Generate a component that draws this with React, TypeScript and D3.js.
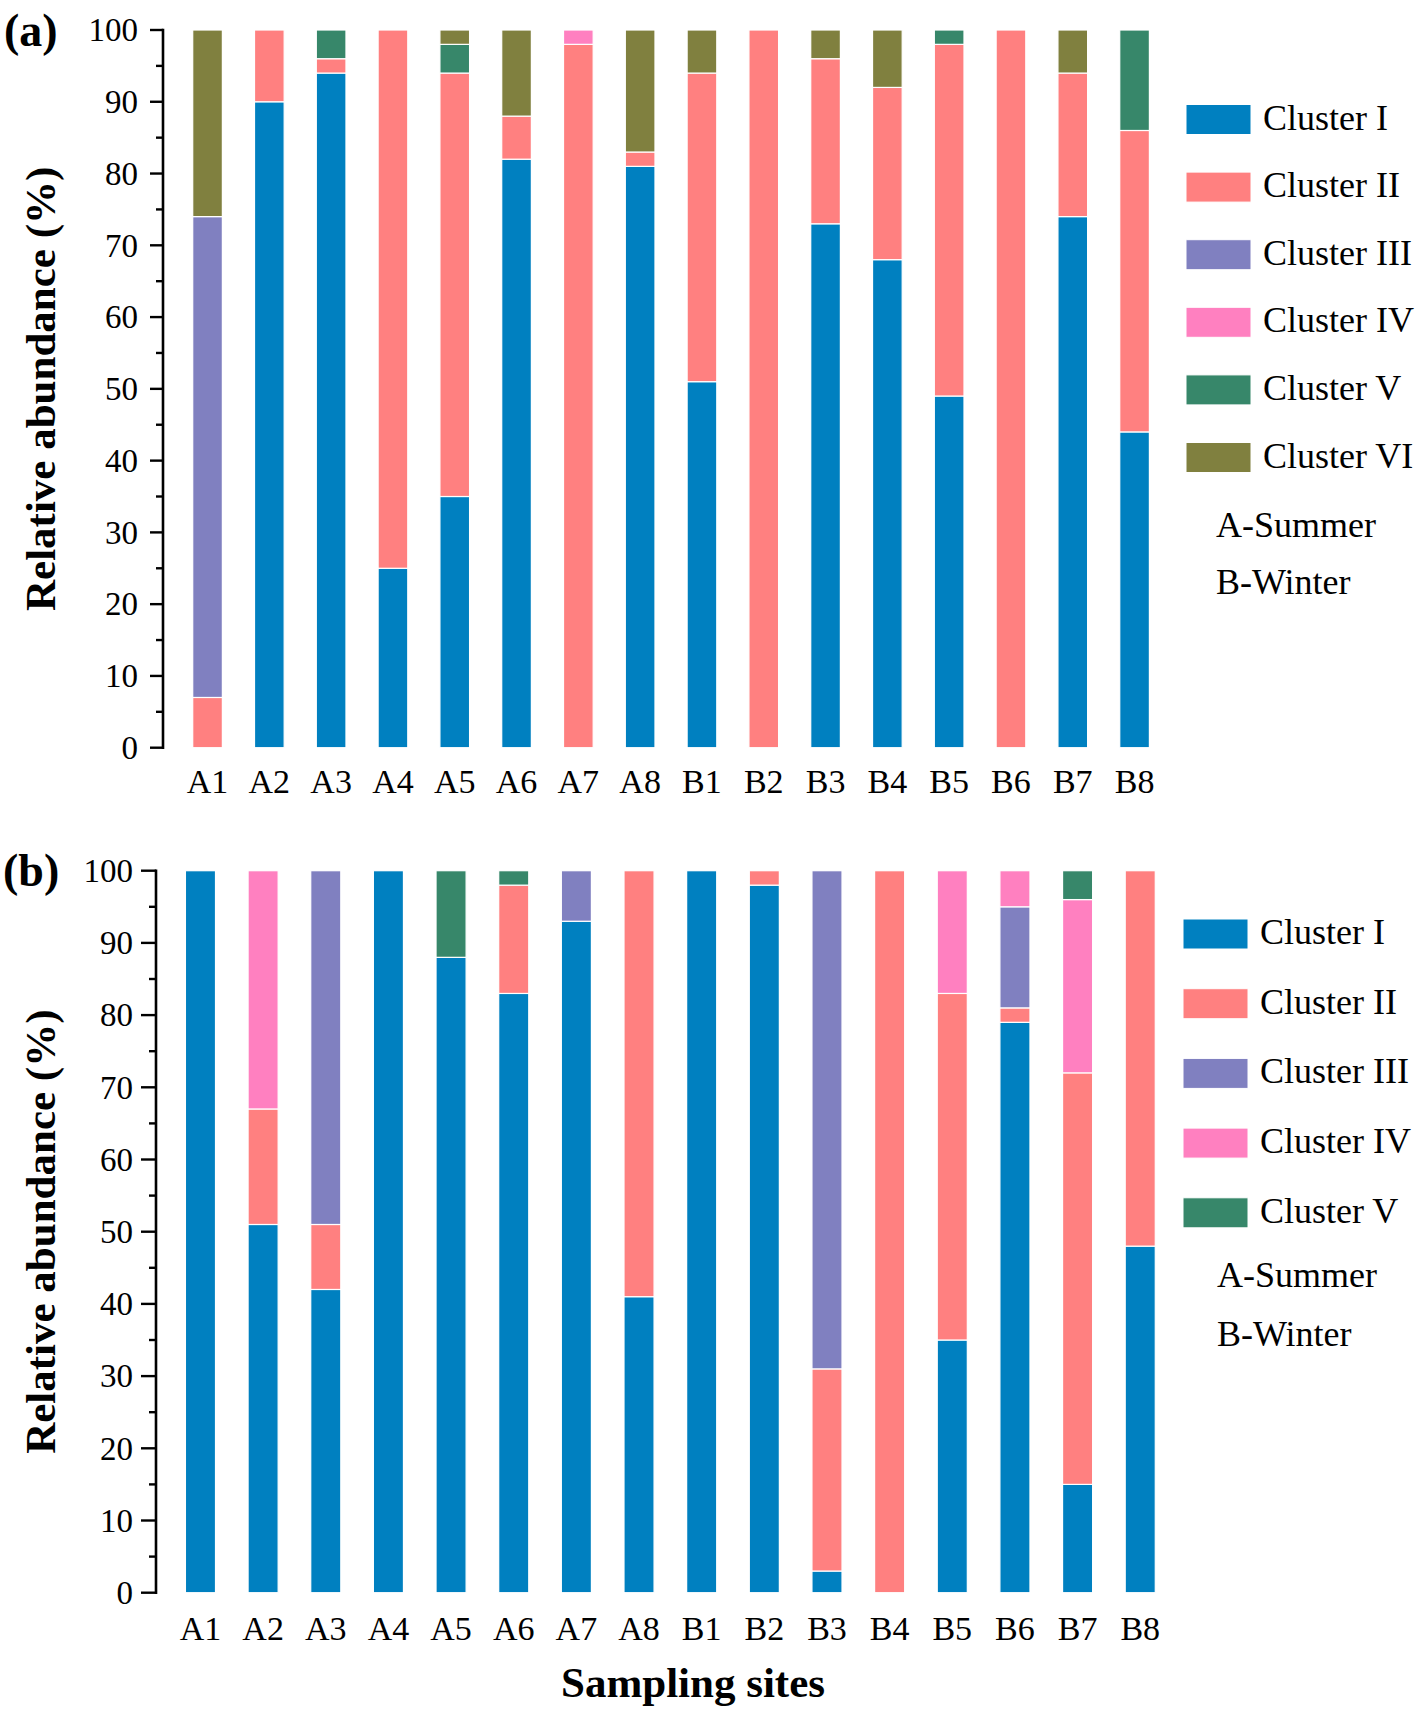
import * as d3 from "d3";

const sites = ["A1", "A2", "A3", "A4", "A5", "A6", "A7", "A8", "B1", "B2", "B3", "B4", "B5", "B6", "B7", "B8"];
const clusterNames = ["Cluster I", "Cluster II", "Cluster III", "Cluster IV", "Cluster V", "Cluster VI"];
const clusterColors = ["#0080C0", "#FF8080", "#8080C0", "#FF80C0", "#37876A", "#80803F"];
const yTicks = [0, 10, 20, 30, 40, 50, 60, 70, 80, 90, 100];
const yMinorTicks = [5, 15, 25, 35, 45, 55, 65, 75, 85, 95];
const seasonNotes = ["A-Summer", "B-Winter"];

// panel (a): relative abundance per site
const aCluster1 = [0, 90, 94, 25, 35, 82, 0, 81, 51, 0, 73, 68, 49, 0, 74, 44];
const aCluster2 = [7, 10, 2, 75, 59, 6, 98, 2, 43, 100, 23, 24, 49, 100, 20, 42];
const aCluster3 = [67, 0, 0, 0, 0, 0, 0, 0, 0, 0, 0, 0, 0, 0, 0, 0];
const aCluster4 = [0, 0, 0, 0, 0, 0, 2, 0, 0, 0, 0, 0, 0, 0, 0, 0];
const aCluster5 = [0, 0, 4, 0, 4, 0, 0, 0, 0, 0, 0, 0, 2, 0, 0, 14];
const aCluster6 = [26, 0, 0, 0, 2, 12, 0, 17, 6, 0, 4, 8, 0, 0, 6, 0];

// panel (b)
const bCluster1 = [100, 51, 42, 100, 88, 83, 93, 41, 100, 98, 3, 0, 35, 79, 15, 48];
const bCluster2 = [0, 16, 9, 0, 0, 15, 0, 59, 0, 2, 28, 100, 48, 2, 57, 52];
const bCluster3 = [0, 0, 49, 0, 0, 0, 7, 0, 0, 0, 69, 0, 0, 14, 0, 0];
const bCluster4 = [0, 33, 0, 0, 0, 0, 0, 0, 0, 0, 0, 0, 17, 5, 24, 0];
const bCluster5 = [0, 0, 0, 0, 12, 2, 0, 0, 0, 0, 0, 0, 0, 0, 4, 0];

const FONT = "'Liberation Serif', 'Times New Roman', serif";

function Panel({ tag, series, layout }) {
  const keys = clusterNames.slice(0, series.length);
  const rows = sites.map((s, i) => {
    const r = { site: s };
    keys.forEach((k, j) => (r[k] = series[j][i]));
    return r;
  });
  const stacked = d3.stack().keys(keys)(rows);

  const x = d3
    .scaleBand()
    .domain(sites)
    .range(layout.xRange)
    .paddingInner(0.52)
    .paddingOuter(0.5);
  const y = d3.scaleLinear().domain([0, 100]).range([layout.yBottom, layout.yTop]);
  const ax = layout.axisX;
  const midY = (layout.yTop + layout.yBottom) / 2;

  return (
    <g>
      <text x={layout.tagX} y={layout.tagY} fontSize={46} fontWeight="bold" fontFamily={FONT}>
        {tag}
      </text>
      {stacked.map((layer, j) =>
        layer.map((d, i) =>
          d[1] - d[0] > 0 ? (
            <rect
              key={keys[j] + i}
              x={x(sites[i])}
              y={y(d[1])}
              width={x.bandwidth()}
              height={y(d[0]) - y(d[1])}
              fill={clusterColors[j]}
              stroke="#fff"
              strokeWidth={1.2}
            />
          ) : null
        )
      )}
      <line x1={ax} x2={ax} y1={y(0) + 1.2} y2={y(100) - 1.2} stroke="#000" strokeWidth={2.6} />
      {yTicks.map((t) => (
        <g key={t}>
          <line x1={ax - layout.tickLen} x2={ax} y1={y(t)} y2={y(t)} stroke="#000" strokeWidth={2.4} />
          <text
            x={ax - layout.tickLen - layout.tickPad}
            y={y(t)}
            dy="0.34em"
            textAnchor="end"
            fontSize={33}
            fontFamily={FONT}
          >
            {t}
          </text>
        </g>
      ))}
      {yMinorTicks.map((t) => (
        <line key={t} x1={ax - 7} x2={ax} y1={y(t)} y2={y(t)} stroke="#000" strokeWidth={2.4} />
      ))}
      {sites.map((s) => (
        <text
          key={s}
          x={x(s) + x.bandwidth() / 2}
          y={layout.xLabelY}
          textAnchor="middle"
          fontSize={34}
          fontFamily={FONT}
        >
          {s}
        </text>
      ))}
      <text
        transform={`translate(${layout.titleX},${midY}) rotate(-90)`}
        textAnchor="middle"
        fontSize={43}
        fontWeight="bold"
        fontFamily={FONT}
      >
        Relative abundance (%)
      </text>
      {keys.map((k, j) => {
        const cy = layout.legendY + j * layout.legendGap;
        return (
          <g key={k}>
            <rect
              x={layout.swatchX}
              y={cy - 15}
              width={65}
              height={30}
              fill={clusterColors[j]}
              stroke="#fff"
              strokeWidth={1}
            />
            <text x={layout.swatchX + 77} y={cy + 10} fontSize={36} fontFamily={FONT}>
              {k}
            </text>
          </g>
        );
      })}
      {seasonNotes.map((n, i) => (
        <text key={n} x={layout.noteX} y={layout.noteY[i]} fontSize={36} fontFamily={FONT}>
          {n}
        </text>
      ))}
    </g>
  );
}

export default function App() {
  const layoutA = {
    xRange: [161.8, 1180.3],
    yTop: 30,
    yBottom: 747.7,
    axisX: 163,
    tickLen: 13,
    tickPad: 12,
    xLabelY: 793,
    tagX: 4,
    tagY: 46,
    titleX: 55,
    swatchX: 1186,
    legendY: 119.5,
    legendGap: 67.6,
    noteX: 1216,
    noteY: [537, 594],
  };
  const layoutB = {
    xRange: [154.1, 1186.6],
    yTop: 870.7,
    yBottom: 1592.7,
    axisX: 156,
    tickLen: 15,
    tickPad: 8,
    xLabelY: 1640,
    tagX: 3,
    tagY: 886,
    titleX: 55,
    swatchX: 1183,
    legendY: 934,
    legendGap: 69.7,
    noteX: 1217,
    noteY: [1287, 1346],
  };

  return (
    <svg
      width={1418}
      height={1712}
      style={{ position: "absolute", left: 0, top: 0, background: "#fff" }}
    >
      <rect width={1418} height={1712} fill="#fff" />
      <Panel
        tag="(a)"
        series={[aCluster1, aCluster2, aCluster3, aCluster4, aCluster5, aCluster6]}
        layout={layoutA}
      />
      <Panel
        tag="(b)"
        series={[bCluster1, bCluster2, bCluster3, bCluster4, bCluster5]}
        layout={layoutB}
      />
      <text x={693} y={1697} textAnchor="middle" fontSize={43} fontWeight="bold" fontFamily={FONT}>
        Sampling sites
      </text>
    </svg>
  );
}
